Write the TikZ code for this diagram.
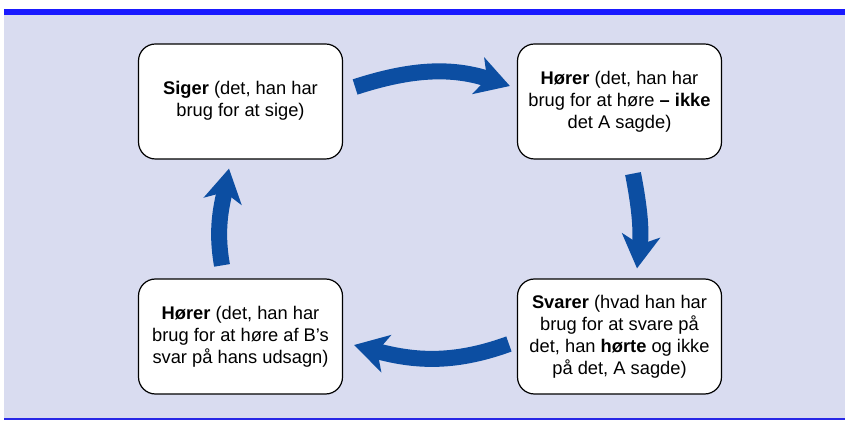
\documentclass[tikz,border=0pt]{standalone}
\usepackage{fontspec}
\setmainfont{Liberation Sans}
\usetikzlibrary{arrows.meta}
\definecolor{bgpanel}{RGB}{217,220,240}
\definecolor{barblue}{RGB}{26,26,255}
\definecolor{rulblue}{RGB}{40,40,230}
\definecolor{arrowblue}{RGB}{12,78,162}
\begin{document}
\begin{tikzpicture}[x=1pt,y=1pt,
  stage/.style={draw=black, line width=1.2pt, fill=white, rounded corners=17pt,
    minimum width=204pt, minimum height=115pt, inner sep=0pt, align=center,
    font=\fontsize{18.3}{22}\selectfont},
  flow/.style={draw=arrowblue, line width=16pt,
    -{Stealth[length=33pt,width=38pt,inset=9pt]}}]
\useasboundingbox (0,0) rectangle (845,420);
% page, panel and rules
\fill[white] (0,0) rectangle (845,420);
\fill[bgpanel] (4,2) rectangle (845,405);
\fill[barblue] (4,405) rectangle (845,411);
\fill[rulblue] (4,0) rectangle (845,2);

% the four stages of the conversation
\node[stage] (siger) at (240.5,318.5) {\raisebox{3pt}{\begin{tabular}{@{}c@{}}\textbf{Siger} (det, han har\\brug for at sige)\end{tabular}}};
\node[stage] (hoerer) at (619.5,318.5) {\textbf{Hører} (det, han har\\brug for at høre \textbf{– ikke}\\det A sagde)};
\node[stage] (svarer) at (619.5,83.5) {\textbf{Svarer} (hvad han har\\brug for at svare på\\det, han \textbf{hørte} og ikke\\på det, A sagde)};
\node[stage] (hoereb) at (240.5,83.5) {\textbf{Hører} (det, han har\\brug for at høre af B’s\\svar på hans udsagn)};

% the cycle
\draw[flow] ([shift={(12,14.5)}]siger.east) to[out=18,in=162] ([shift={(-7,15.5)}]hoerer.west);
\draw[flow] ([shift={(13.5,-14)}]hoerer.south) to[out=-79,in=83] ([shift={(17.5,10)}]svarer.north);
\draw[flow] ([shift={(-8,-7.5)}]svarer.west) to[out=200,in=-15] ([shift={(11,-8.5)}]hoereb.east);
\draw[flow] ([shift={(-18.5,13)}]hoereb.north) to[out=100,in=-101] ([shift={(-11.5,-9)}]siger.south);
\end{tikzpicture}
\end{document}
